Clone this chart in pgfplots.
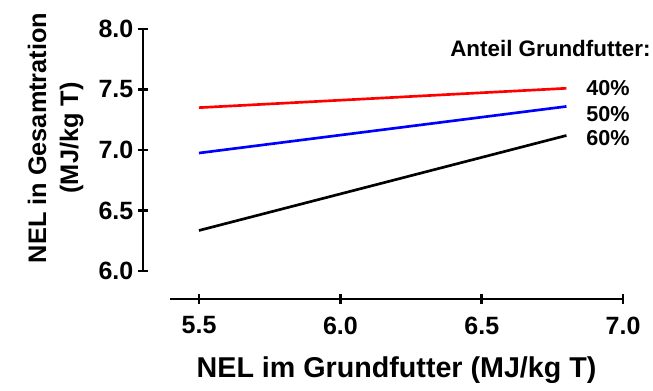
\documentclass[border=0pt]{standalone}
\usepackage{fontspec}
\setmainfont{Liberation Sans}
\usepackage{pgfplots}
\pgfplotsset{compat=1.18}
\begin{document}
\begin{tikzpicture}
\pgfplotsset{common/.style={
  x=212pt, y=90.75pt, clip=false,
  every tick/.style={line width=2pt, black},
  tick align=outside, major tick length=7.5pt,
  ticklabel style={font=\bfseries\fontsize{18.75}{20}\selectfont},
  /pgf/number format/assume math mode=true,
  /pgf/number format/fixed,
  /pgf/number format/fixed zerofill,
  /pgf/number format/precision=1,
}}
\begin{axis}[common, at={(107.25pt,89.25pt)}, anchor=south west,
  xmin=5.302, xmax=6.85, ymin=6, ymax=8,
  axis y line=left, axis x line=none,
  axis line style={-, line width=2pt, black},
  ytick={6,6.5,7,7.5,8},
  ylabel={NEL in Gesamtration\\(MJ/kg T)},
  ylabel shift=4.5pt,
  ylabel style={align=center, at={(ticklabel cs:0.55)}, font=\bfseries\fontsize{19}{24}\selectfont}]
\addplot[red, line width=2pt] coordinates {(5.5,7.35) (6.8,7.51)};
\addplot[blue, line width=2pt] coordinates {(5.5,6.975) (6.8,7.36)};
\addplot[black, line width=2pt] coordinates {(5.5,6.335) (6.8,7.12)};
\end{axis}
\begin{axis}[common, at={(127.5pt,68.25pt)}, anchor=south west,
  xmin=5.397, xmax=7.0, ymin=0, ymax=0.1,
  axis x line=bottom, axis y line=none,
  axis line style={-, line width=2pt, black},
  xtick={5.5,6,6.5,7},
  xticklabel style={yshift=-6pt},
  xlabel={NEL im Grundfutter (MJ/kg T)},
  xlabel style={yshift=-10pt, font=\bfseries\fontsize{21.5}{24}\selectfont}]
\end{axis}
\node[anchor=base west, inner sep=0pt, font=\bfseries\fontsize{16.8}{18}\selectfont] at (337.5pt,249.75pt) {Anteil Grundfutter:};
\node[anchor=base west, inner sep=0pt, font=\bfseries\fontsize{16.2}{18}\selectfont] at (439.5pt,221.25pt) {40\%};
\node[anchor=base west, inner sep=0pt, font=\bfseries\fontsize{16.2}{18}\selectfont] at (439.5pt,201.75pt) {50\%};
\node[anchor=base west, inner sep=0pt, font=\bfseries\fontsize{16.2}{18}\selectfont] at (439.5pt,183.75pt) {60\%};
\pgfresetboundingbox
\useasboundingbox (0,0) rectangle (489.75pt,292.5pt);
\end{tikzpicture}
\end{document}
